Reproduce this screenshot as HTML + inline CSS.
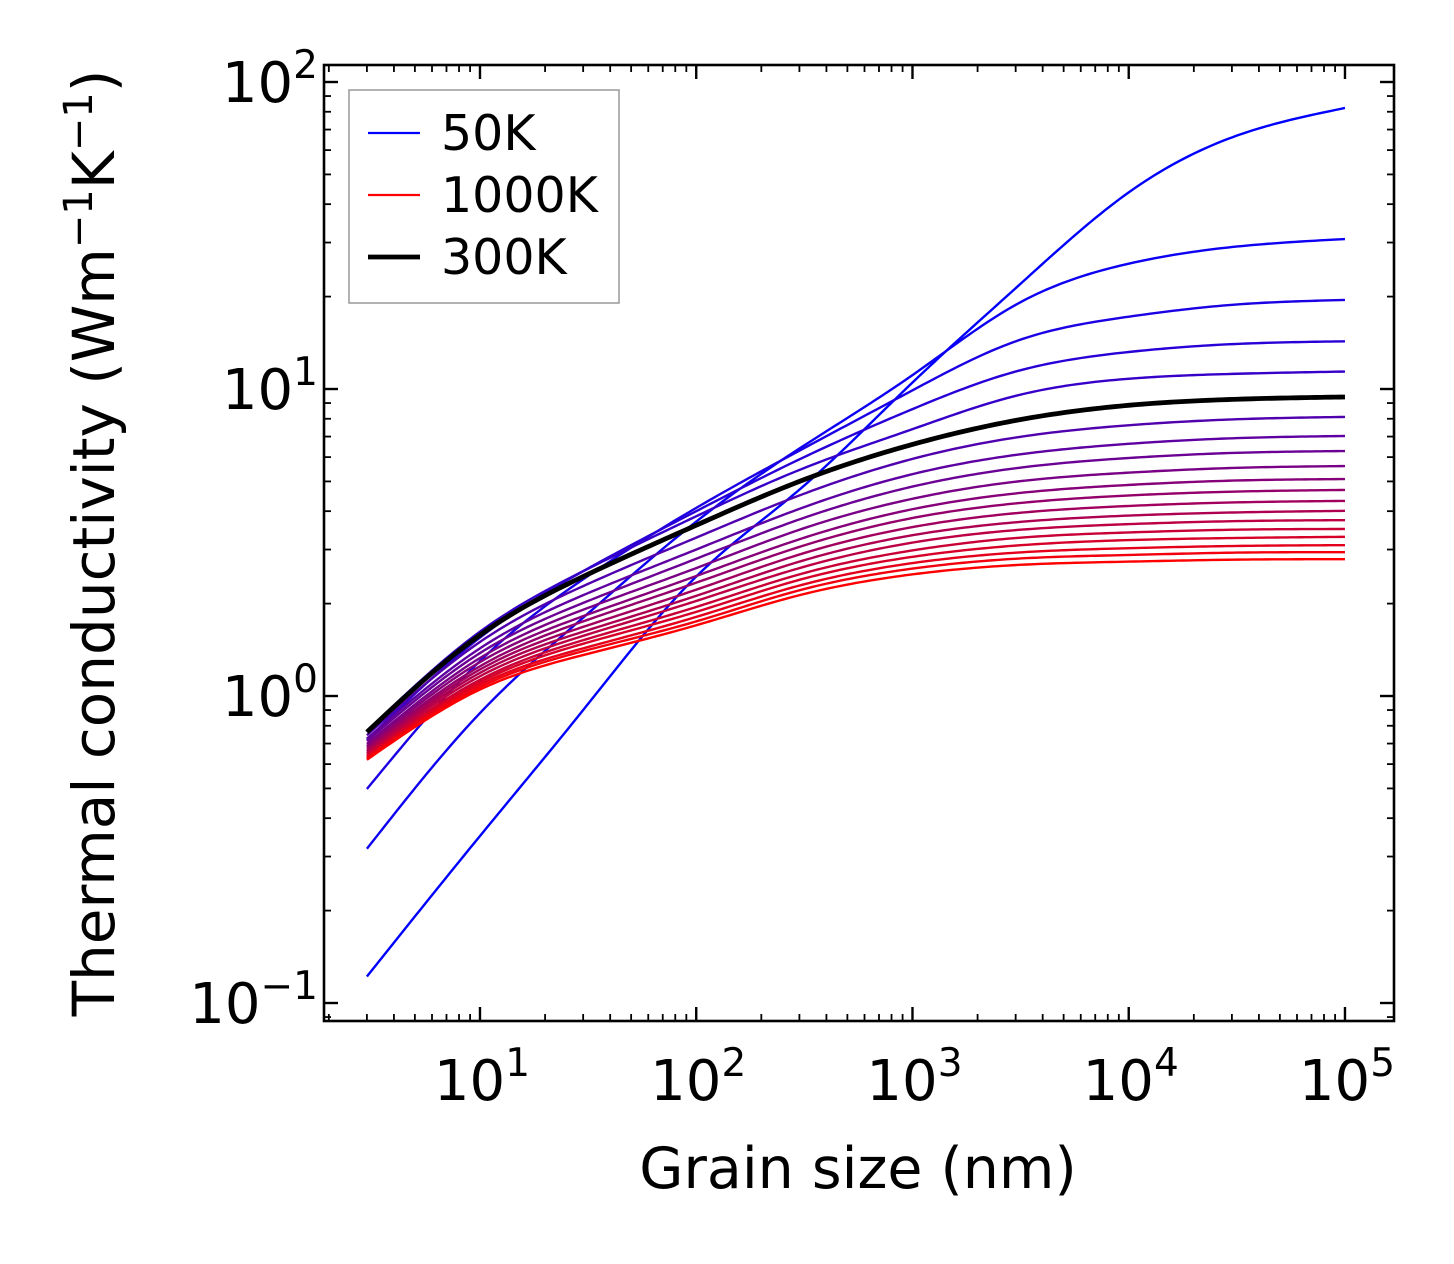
<!DOCTYPE html>
<html><head><meta charset="utf-8"><style>
body{margin:0;background:#fff}
svg text{font-family:"DejaVu Sans","Liberation Sans",sans-serif;fill:#000}
</style></head><body>
<svg id="chart" width="1454" height="1259" viewBox="0 0 1454 1259" xmlns="http://www.w3.org/2000/svg">
<rect width="1454" height="1259" fill="#fff"/>
<g id="ticks"></g>
<g id="lines"></g>
<rect x="324" y="65" width="1070" height="956" fill="none" stroke="#000" stroke-width="2.6"/>
<g id="labels"></g>
<text x="858" y="1188" font-size="57" text-anchor="middle">Grain size (nm)</text>
<text transform="translate(114,543) rotate(-90)" font-size="58" text-anchor="middle">Thermal conductivity (Wm<tspan dy="-22" font-size="40">−1</tspan><tspan dy="22">K</tspan><tspan dy="-22" font-size="40">−1</tspan><tspan dy="22">)</tspan></text>
<g>
<rect x="349" y="90" width="270" height="213" fill="#fff" stroke="#999" stroke-width="1.5"/>
<line x1="368" y1="133" x2="420" y2="133" stroke="#0000ff" stroke-width="2.3"/>
<text x="441" y="150" font-size="49">50K</text>
<line x1="368" y1="195" x2="420" y2="195" stroke="#ff0000" stroke-width="2.3"/>
<text x="441" y="212" font-size="49">1000K</text>
<line x1="368" y1="257" x2="420" y2="257" stroke="#000" stroke-width="4.8"/>
<text x="441" y="274" font-size="49">300K</text>
</g>
</svg>
<script>
const grainSizes=[3,10,30,100,300,1000,3000,10000,30000,100000];
const temperatures=[50,100,150,200,250,300,350,400,450,500,550,600,650,700,750,800,850,900,950,1000];
const k50=[0.122,0.35,0.9,2.45,4.7,10.5,21.3,43.7,66,82.3];
const k100=[0.318,0.88,1.8,3.7,6.4,11.1,18.8,25.6,29,30.8];
const k150=[0.498,1.3,2.4,4.1,6.3,9.9,14.3,17.2,18.8,19.5];
const k200=[0.72,1.55,2.55,4.0,5.9,8.6,11.4,13.2,14.0,14.3];
const k250=[0.77,1.62,2.55,3.85,5.45,7.4,9.5,10.8,11.2,11.4];
const k300=[0.763,1.58,2.45,3.6,5.0,6.6,7.9,8.85,9.25,9.42];
const k350=[0.745,1.50,2.28,3.28,4.50,5.92,6.95,7.62,7.96,8.11];
const k400=[0.726,1.43,2.13,3.00,4.07,5.28,6.10,6.63,6.91,7.03];
const k450=[0.713,1.38,2.01,2.80,3.76,4.81,5.52,5.96,6.19,6.28];
const k500=[0.698,1.33,1.91,2.61,3.48,4.39,4.99,5.34,5.53,5.61];
const k550=[0.687,1.29,1.82,2.46,3.24,4.06,4.57,4.87,5.03,5.09];
const k600=[0.678,1.25,1.75,2.34,3.06,3.80,4.24,4.50,4.63,4.69];
const k650=[0.668,1.22,1.68,2.22,2.89,3.55,3.94,4.16,4.27,4.32];
const k700=[0.659,1.19,1.62,2.12,2.74,3.34,3.68,3.87,3.96,4.01];
const k750=[0.652,1.16,1.57,2.04,2.61,3.16,3.47,3.63,3.71,3.74];
const k800=[0.644,1.13,1.52,1.95,2.49,2.98,3.27,3.41,3.48,3.50];
const k850=[0.637,1.11,1.48,1.88,2.39,2.84,3.09,3.22,3.27,3.30];
const k900=[0.631,1.09,1.43,1.81,2.29,2.71,2.93,3.03,3.08,3.10];
const k950=[0.625,1.07,1.40,1.75,2.21,2.60,2.80,2.88,2.93,2.94];
const k1000=[0.62,1.05,1.36,1.70,2.13,2.49,2.67,2.74,2.78,2.79];
const seriesList=[k50,k100,k150,k200,k250,k300,k350,k400,k450,k500,k550,k600,k650,k700,k750,k800,k850,k900,k950,k1000];
const xTickExps=[1,2,3,4,5];
const yTickExps=[-1,0,1,2];

const NS="http://www.w3.org/2000/svg";
const X0=324,X1=1394,Y0=65,Y1=1021;
const xLogMin=0.2787,xLogMax=5.2267,yLogMin=-1.0586,yLogMax=2.0554;
function xs(v){return X0+(Math.log10(v)-xLogMin)/(xLogMax-xLogMin)*(X1-X0);}
function ys(v){return Y1-(Math.log10(v)-yLogMin)/(yLogMax-yLogMin)*(Y1-Y0);}

const ticks=document.getElementById('ticks');
function tick(x1,y1,x2,y2,w){const l=document.createElementNS(NS,'line');
l.setAttribute('x1',x1);l.setAttribute('y1',y1);l.setAttribute('x2',x2);l.setAttribute('y2',y2);
l.setAttribute('stroke','#000');l.setAttribute('stroke-width',w);


ticks.appendChild(l);}
for(let e=0;e<=5;e++)for(let m=1;m<=9;m++){const v=m*Math.pow(10,e);const x=xs(v);if(x<X0||x>X1)continue;
const L=m===1?14:7,w=m===1?2.4:1.8;tick(x,Y1,x,Y1-L,w);tick(x,Y0,x,Y0+L,w);}
for(let e=-2;e<=2;e++)for(let m=1;m<=9;m++){const v=m*Math.pow(10,e);const y=ys(v);if(y<Y0||y>Y1)continue;
const L=m===1?14:7,w=m===1?2.4:1.8;tick(X0,y,X0+L,y,w);tick(X1,y,X1-L,y,w);}

const labels=document.getElementById('labels');
function powLabel(x,y,exp,anchor,name){const t=document.createElementNS(NS,'text');
t.setAttribute('x',x);t.setAttribute('y',y);t.setAttribute('font-size','56');t.setAttribute('text-anchor',anchor);


const es=String(exp).replace('-','−');
t.innerHTML='10<tspan dy="-24" font-size="39">'+es+'</tspan>';labels.appendChild(t);}
xTickExps.forEach(e=>powLabel(xs(Math.pow(10,e))+2,1100,e,'middle','x-tick-label'));
yTickExps.forEach(e=>powLabel(318,ys(Math.pow(10,e))+20,e,'end','y-tick-label'));

function spline(xa,ya){const n=xa.length,h=[],a=[],l=[1],mu=[0],z=[0],c=new Array(n).fill(0),b=[],d=[];
for(let i=0;i<n-1;i++)h.push(xa[i+1]-xa[i]);
for(let i=1;i<n-1;i++)a[i]=3/h[i]*(ya[i+1]-ya[i])-3/h[i-1]*(ya[i]-ya[i-1]);
for(let i=1;i<n-1;i++){l[i]=2*(xa[i+1]-xa[i-1])-h[i-1]*mu[i-1];mu[i]=h[i]/l[i];z[i]=(a[i]-h[i-1]*z[i-1])/l[i];}
for(let j=n-2;j>=0;j--){c[j]=(j>0?z[j]:0)-mu[j]*c[j+1];if(j===0)c[0]=0;b[j]=(ya[j+1]-ya[j])/h[j]-h[j]*(c[j+1]+2*c[j])/3;d[j]=(c[j+1]-c[j])/(3*h[j]);}
return function(x){let i=0;while(i<n-2&&x>xa[i+1])i++;const t=x-xa[i];return ya[i]+b[i]*t+c[i]*t*t+d[i]*t*t*t;};}

const linesG=document.getElementById('lines');
const lx=grainSizes.map(v=>Math.log10(v));
let blackPath=null;
seriesList.forEach((s,i)=>{
 const f=spline(lx,s.map(v=>Math.log10(v)));
 let d='';const N=200;
 for(let j=0;j<=N;j++){const lv=lx[0]+(lx[lx.length-1]-lx[0])*j/N;const v=Math.pow(10,f(lv));
  d+=(j?'L':'M')+xs(Math.pow(10,lv)).toFixed(2)+','+ys(v).toFixed(2);}
 const p=document.createElementNS(NS,'path');p.setAttribute('d',d);p.setAttribute('fill','none');
 const t=i/(seriesList.length-1);
 if(temperatures[i]===300){p.setAttribute('stroke','#000');p.setAttribute('stroke-width','4.8');blackPath=p;}
 else{p.setAttribute('stroke','rgb('+Math.round(255*t)+',0,'+Math.round(255*(1-t))+')');p.setAttribute('stroke-width','2.4');}
 
 
 linesG.appendChild(p);});
if(blackPath)linesG.appendChild(blackPath);
</script>
</body></html>
